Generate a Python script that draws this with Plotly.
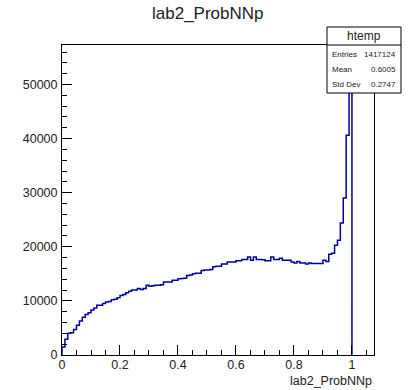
import numpy as np
import plotly.graph_objects as go

# ---- data ----
hist_name = "htemp"
var_name = "lab2_ProbNNp"
n_bins = 100
x_low, x_high = 0.0, 1.0
counts = [
    1500, 2900, 4000, 4100, 4700, 5500, 6300, 7000, 7500, 7800,
    8300, 8700, 9200, 9200, 9500, 9800, 9900, 10200, 10300, 10600,
    11000, 11200, 11500, 11800, 12000, 12000, 12300, 12100, 12300, 12900,
    12700, 12800, 12900, 12900, 13000, 13500, 13500, 13500, 13800, 13800,
    14100, 14150, 14200, 14700, 14800, 15000, 15100, 15100, 15600, 15700,
    15700, 15800, 16300, 16400, 16400, 16800, 16800, 17200, 17200, 17200,
    17400, 17400, 17650, 17650, 18100, 17500, 18100, 17650, 17650, 17600,
    17400, 17400, 18100, 17650, 17650, 17900, 17500, 17500, 17500, 17200,
    17000, 17300, 17000, 17000, 16800, 17000, 16900, 16900, 16900, 16900,
    17500, 17300, 18600, 18800, 20300, 21200, 24400, 29000, 40600, 54500,
]
stat_labels = ["Entries", "Mean", "Std Dev"]
stat_values = ["1417124", "0.6005", "0.2747"]

# ---- geometry ----
W, H = 411, 390
L, R, T, B = 62, 37, 45, 35
x_axis_range = [0, 1.076]
y_axis_range = [0, 57300]

def px(x):
    return (x - L) / (W - L - R)

def py(y):
    return (H - B - y) / (H - T - B)

edges = np.linspace(x_low, x_high, n_bins + 1)
xs = np.concatenate([[edges[0]], edges])
ys = np.concatenate([[0], counts, [0]])

fig = go.Figure()
fig.add_trace(go.Scatter(
    x=xs, y=ys, mode="lines", line_shape="hv",
    line=dict(color="#000099", width=1.5), hoverinfo="skip", showlegend=False,
))

font_family = "Liberation Sans, Arial, Helvetica, sans-serif"
axis_common = dict(
    showline=True, mirror=True, linecolor="black", linewidth=1,
    showgrid=False, zeroline=False, ticks="inside", ticklen=10,
    tickcolor="black", tickwidth=1,
    tickfont=dict(family=font_family, size=12.5, color="#222"),
)
fig.update_xaxes(range=x_axis_range, dtick=0.2, tick0=0,
                 minor=dict(dtick=0.05, ticks="inside", ticklen=5, tickcolor="black"),
                 ticklabelstandoff=-2, **axis_common)
fig.update_yaxes(range=y_axis_range, dtick=10000, tick0=0, tickformat="d",
                 minor=dict(dtick=2000, ticks="inside", ticklen=5, tickcolor="black"),
                 ticklabelstandoff=1, **axis_common)

shapes = [
    dict(type="rect", xref="paper", yref="paper", x0=px(327), x1=px(401), y0=py(93), y1=py(27),
         line=dict(color="black", width=1), fillcolor="white", layer="above"),
    dict(type="line", xref="paper", yref="paper", x0=px(327), x1=px(401), y0=py(45), y1=py(45),
         line=dict(color="black", width=1), layer="above"),
]
annotations = [
    dict(text=var_name, xref="paper", yref="paper", x=px(208), y=py(14), showarrow=False,
         xanchor="center", yanchor="middle", font=dict(family=font_family, size=17, color="#222")),
    dict(text=var_name, xref="paper", yref="paper", x=px(374), y=py(381), showarrow=False,
         xanchor="right", yanchor="middle", font=dict(family=font_family, size=12.5, color="#222")),
    dict(text=hist_name, xref="paper", yref="paper", x=px(364), y=py(36), showarrow=False,
         xanchor="center", yanchor="middle", font=dict(family=font_family, size=12, color="#222")),
]
row_y = [54, 69.5, 84]
for lab, val, yy in zip(stat_labels, stat_values, row_y):
    annotations.append(dict(text=lab, xref="paper", yref="paper", x=px(330), y=py(yy), showarrow=False,
                            xanchor="left", yanchor="middle",
                            font=dict(family=font_family, size=8, color="#222")))
    annotations.append(dict(text=val, xref="paper", yref="paper", x=px(398), y=py(yy), showarrow=False,
                            xanchor="right", yanchor="middle",
                            font=dict(family=font_family, size=8, color="#222")))

fig.update_layout(
    width=W, height=H, margin=dict(l=L, r=R, t=T, b=B, pad=0),
    paper_bgcolor="white", plot_bgcolor="white",
    shapes=shapes, annotations=annotations, showlegend=False,
)
fig.write_html("out.html")
